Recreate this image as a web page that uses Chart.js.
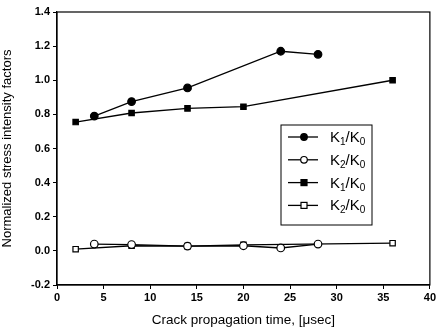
<!DOCTYPE html>
<html>
<head>
<meta charset="utf-8">
<script src="https://cdn.jsdelivr.net/npm/chart.js@4"></script>
<style>
  html, body { margin: 0; padding: 0; background: #fff; }
  #wrap { width: 438px; height: 328px; }
</style>
</head>
<body>
<div id="wrap"><canvas id="stressChart" width="438" height="328"></canvas></div>
<script>
const timeK1a = [4, 8, 14, 24, 28];
const k1a = [0.79, 0.875, 0.955, 1.17, 1.152];
const timeK2a = [4, 8, 14, 20, 24, 28];
const k2a = [0.04, 0.037, 0.028, 0.03, 0.017, 0.04];
const timeK1b = [2, 8, 14, 20, 36];
const k1b = [0.755, 0.808, 0.835, 0.845, 1.0];
const timeK2b = [2, 8, 14, 20, 36];
const k2b = [0.01, 0.03, 0.028, 0.035, 0.045];
const seriesLabels = [["K", "1", "K", "0"], ["K", "2", "K", "0"], ["K", "1", "K", "0"], ["K", "2", "K", "0"]];

const toPoints = (xs, ys) => xs.map((x, i) => ({ x: x, y: ys[i] }));

function makeSet(label, xs, ys, style, filled) {
    return {
        label: label[0] + label[1] + '/' + label[2] + label[3],
        parts: label,
        data: toPoints(xs, ys),
        borderColor: '#000',
        backgroundColor: filled ? '#000' : '#fff',
        borderWidth: 1.3,
        pointStyle: style,
        pointRadius: 3.8,
        pointBorderWidth: 1.2,
        pointBorderColor: '#000',
        pointBackgroundColor: filled ? '#000' : '#fff',
        tension: 0
    };
}

// frame around the plot + legend box drawn inside the chart area
const framePlugin = {
    id: 'frame',
    afterDraw(chart) {
        const ctx = chart.ctx;
        const a = chart.chartArea;
        ctx.save();
        ctx.strokeStyle = '#000';
        ctx.lineWidth = 1.2;
        ctx.strokeRect(a.left, a.top, a.right - a.left, a.bottom - a.top);

        // legend
        const bx = 281, by = 125, bw = 91, bh = 100;
        ctx.lineWidth = 1;
        ctx.strokeRect(bx, by, bw, bh);
        ctx.textBaseline = 'alphabetic';
        const big = '15px "Liberation Sans", Arial, sans-serif';
        const small = '10px "Liberation Sans", Arial, sans-serif';
        chart.data.datasets.forEach((ds, i) => {
            const y = by + 12 + i * 22.8;
            ctx.strokeStyle = '#000';
            ctx.lineWidth = 1.3;
            ctx.beginPath();
            ctx.moveTo(bx + 7, y);
            ctx.lineTo(bx + 37, y);
            ctx.stroke();
            ctx.fillStyle = ds.pointBackgroundColor;
            ctx.lineWidth = 1.2;
            if (ds.pointStyle === 'rect') {
                ctx.fillRect(bx + 20, y - 3, 6, 6);
                ctx.strokeRect(bx + 20, y - 3, 6, 6);
            } else {
                ctx.beginPath();
                ctx.arc(bx + 23, y, 3.3, 0, Math.PI * 2);
                ctx.fill();
                ctx.stroke();
            }
            ctx.fillStyle = '#000';
            const p = ds.parts;
            let tx = bx + 49;
            const base = y + 5;
            ctx.font = big;
            ctx.fillText(p[0], tx, base);
            tx += ctx.measureText(p[0]).width;
            ctx.font = small;
            ctx.fillText(p[1], tx, base + 3);
            tx += ctx.measureText(p[1]).width;
            ctx.font = big;
            ctx.fillText('/' + p[2], tx, base);
            tx += ctx.measureText('/' + p[2]).width;
            ctx.font = small;
            ctx.fillText(p[3], tx, base + 3);
        });
        ctx.restore();
    }
};

const ctxStress = document.getElementById('stressChart').getContext('2d');

const stressChart = new Chart(ctxStress, {
    type: 'line',
    data: {
        datasets: [
            makeSet(seriesLabels[0], timeK1a, k1a, 'circle', true),
            makeSet(seriesLabels[1], timeK2a, k2a, 'circle', false),
            makeSet(seriesLabels[2], timeK1b, k1b, 'rect', true),
            makeSet(seriesLabels[3], timeK2b, k2b, 'rect', false)
        ]
    },
    options: {
        responsive: false,
        animation: false,
        layout: { padding: { top: 12, right: 5, left: 0, bottom: 0 } },
        plugins: {
            legend: { display: false },
            tooltip: { enabled: false }
        },
        scales: {
            x: {
                type: 'linear',
                min: 0,
                max: 40,
                afterFit(scale) { scale.height = 43; },
                ticks: {
                    stepSize: 5,
                    color: '#000',
                    padding: 2,
                    maxRotation: 0,
                    font: { family: '"Liberation Sans", Arial, sans-serif', size: 11, weight: 'bold' }
                },
                grid: { drawOnChartArea: false, tickLength: 4, color: '#000' },
                border: { color: '#000', width: 1.2 },
                title: {
                    display: true,
                    text: 'Crack propagation time, [\u03bcsec]',
                    color: '#000',
                    padding: { top: 1, bottom: 0 },
                    font: { family: '"Liberation Sans", Arial, sans-serif', size: 13.5 }
                }
            },
            y: {
                min: -0.2,
                max: 1.4,
                afterFit(scale) { scale.width = 57; },
                ticks: {
                    stepSize: 0.2,
                    color: '#000',
                    padding: 3,
                    font: { family: '"Liberation Sans", Arial, sans-serif', size: 11, weight: 'bold' },
                    callback: (v) => (Math.abs(v) < 1e-9 ? 0 : v).toFixed(1)
                },
                grid: { drawOnChartArea: false, tickLength: 4, color: '#000' },
                border: { color: '#000', width: 1.2 },
                title: {
                    display: true,
                    text: 'Normalized stress intensity factors',
                    color: '#000',
                    padding: { top: 0, bottom: 3 },
                    font: { family: '"Liberation Sans", Arial, sans-serif', size: 13 }
                }
            }
        }
    },
    plugins: [framePlugin]
});
</script>
</body>
</html>
